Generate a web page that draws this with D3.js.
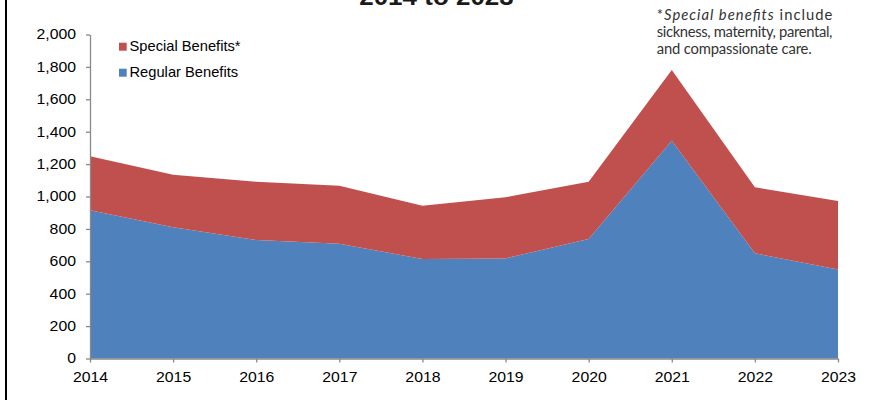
<!DOCTYPE html>
<html>
<head>
<meta charset="utf-8">
<script src="https://cdn.jsdelivr.net/npm/d3@7"></script>
<style>
  html, body { margin: 0; padding: 0; background: #fff; }
  svg { display: block; }
</style>
</head>
<body>
<svg id="chart" width="875" height="400"></svg>
<script>
// ---- data ----
const years = [2014, 2015, 2016, 2017, 2018, 2019, 2020, 2021, 2022, 2023];
const regularBenefits = [915, 810, 731, 709, 614, 618, 738, 1344, 649, 550];
const specialBenefits = [333, 325, 360, 358, 329, 377, 353, 437, 408, 422];
const yTickValues = [0, 200, 400, 600, 800, 1000, 1200, 1400, 1600, 1800, 2000];
const seriesNames = ["Regular Benefits", "Special Benefits*"];
const titleText = "2014 to 2023";
const noteLines = [
  [{t: "*", i: false}, {t: "Special benefits", i: true}, {t: " include", i: false}],
  [{t: "sickness, maternity, parental,", i: false}],
  [{t: "and compassionate care.", i: false}]
];

// ---- layout / style ----
const colors = {"Regular Benefits": "#4F81BD", "Special Benefits*": "#C0504D"};
const axisColor = "#898989";
const SX = 1.13; // horizontal stretch of text in reference

const svg = d3.select("#chart");

const x = d3.scaleLinear().domain([2014, 2023]).range([90, 838]);
const y = d3.scaleLinear().domain([0, 2000]).range([358.5, 34.5]);

const rows = years.map((yr, i) => ({
  year: yr,
  "Regular Benefits": regularBenefits[i],
  "Special Benefits*": specialBenefits[i]
}));
const stacked = d3.stack().keys(seriesNames)(rows);

const area = d3.area()
  .x(d => x(d.data.year))
  .y0(d => y(d[0]))
  .y1(d => y(d[1]));

svg.append("g").selectAll("path")
  .data(stacked)
  .join("path")
  .attr("d", area)
  .attr("fill", d => colors[d.key]);

// left frame line
svg.append("rect").attr("x", 5).attr("y", 0).attr("width", 2).attr("height", 400).attr("fill", "#000");

// y axis
const yAxis = svg.append("g")
  .attr("transform", "translate(90,0)")
  .call(d3.axisLeft(y).tickValues(yTickValues).tickFormat(d3.format(",")).tickSizeInner(4).tickSizeOuter(0).tickPadding(10));
// x axis
const xAxis = svg.append("g")
  .attr("transform", "translate(0,358.5)")
  .call(d3.axisBottom(x).tickValues(years).tickFormat(d3.format("d")).tickSizeInner(4).tickSizeOuter(0).tickPadding(10));

[yAxis, xAxis].forEach(g => {
  g.select(".domain").attr("stroke", axisColor).attr("stroke-width", 1.3);
  g.selectAll(".tick line").attr("stroke", axisColor).attr("stroke-width", 1.3);
  g.selectAll(".tick text")
    .attr("fill", "#000")
    .attr("font-family", "Arial, 'Liberation Sans', sans-serif")
    .attr("font-size", 14);
});
yAxis.selectAll(".tick text").each(function() {
  const t = d3.select(this);
  t.attr("x", +t.attr("x") / SX).attr("transform", `scale(${SX},1)`);
});
xAxis.selectAll(".tick text").attr("transform", `scale(${SX},1)`);

// legend
const legendItems = [
  {name: "Special Benefits*", y: 51},
  {name: "Regular Benefits", y: 77}
];
const lg = svg.append("g");
legendItems.forEach(it => {
  lg.append("rect").attr("x", 119).attr("y", it.y - 8.3).attr("width", 7.7).attr("height", 8)
    .attr("fill", colors[it.name]);
  lg.append("text")
    .attr("transform", `translate(129.5,${it.y}) scale(1.05,1)`)
    .attr("font-family", "Arial, 'Liberation Sans', sans-serif")
    .attr("font-size", 14)
    .attr("fill", "#000")
    .text(it.name);
});

// title (cut off at top, as in the reference)
svg.append("text")
  .attr("transform", `translate(436.5,5) scale(${SX},1)`)
  .attr("text-anchor", "middle")
  .attr("font-family", "Arial, 'Liberation Sans', sans-serif")
  .attr("font-weight", "bold")
  .attr("font-size", 23)
  .attr("fill", "#1a1a1a")
  .text(titleText);

// footnote
const noteBase = [19.5, 36.8, 54];
const noteWidth = [175.7, 175.7, 155];
noteLines.forEach((line, li) => {
  const t = svg.append("text")
    .attr("x", 656.7)
    .attr("y", noteBase[li])
    .attr("font-family", "Lato, 'Open Sans', sans-serif")
    .attr("font-size", 14.8)
    .attr("fill", "#333")
    .attr("textLength", noteWidth[li])
    .attr("lengthAdjust", "spacing");
  line.forEach(seg => {
    t.append("tspan").attr("font-style", seg.i ? "italic" : "normal").text(seg.t);
  });
});
</script>
</body>
</html>
